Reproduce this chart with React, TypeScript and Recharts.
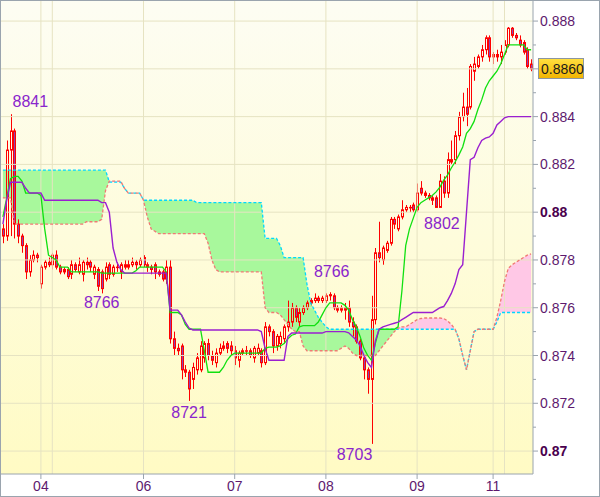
import {
  ComposedChart, Bar, Line, Area, XAxis, YAxis, ReferenceLine, ReferenceDot, CartesianGrid,
} from 'recharts'

// hourly candles, values in pips (price * 10000)
const opens = [
  8793, 8790, 8826, 8834, 8795, 8790, 8786, 8775, 8780, 8782,
  8770, 8777, 8779, 8778, 8782, 8777, 8775, 8776, 8774, 8778,
  8775, 8774, 8779, 8779, 8774, 8776, 8775, 8772, 8778, 8774,
  8777, 8775, 8778, 8777, 8778, 8779, 8778, 8781, 8778, 8777,
  8778, 8775, 8775, 8772, 8777, 8747, 8743, 8744, 8734, 8733,
  8730, 8734, 8734, 8739, 8745, 8740, 8737, 8741, 8743, 8745,
  8744, 8742, 8738, 8741, 8742, 8742, 8739, 8741, 8742, 8737,
  8752, 8750, 8744, 8745, 8747, 8752, 8754, 8760, 8754, 8758,
  8760, 8762, 8763, 8764, 8763, 8763, 8765, 8765, 8760, 8759,
  8760, 8760, 8754, 8752, 8746, 8739, 8734, 8730, 8755, 8783,
  8780, 8784, 8787, 8797, 8793, 8798, 8801, 8802, 8803, 8801,
  8810, 8808, 8807, 8806, 8806, 8802, 8813, 8808, 8821, 8822,
  8832, 8840, 8844, 8844, 8859, 8861, 8865, 8868, 8873, 8866,
  8865, 8865, 8867, 8870, 8877, 8874, 8872, 8871, 8868, 8862,
]
const highs = [
  8795, 8830, 8841, 8835, 8797, 8791, 8787, 8782, 8784, 8783,
  8778, 8780, 8781, 8783, 8784, 8778, 8777, 8777, 8780, 8779,
  8781, 8780, 8781, 8780, 8778, 8777, 8776, 8779, 8779, 8778,
  8779, 8779, 8780, 8780, 8781, 8780, 8781, 8782, 8779, 8778,
  8779, 8776, 8776, 8780, 8780, 8750, 8745, 8745, 8736, 8734,
  8737, 8741, 8746, 8746, 8747, 8742, 8743, 8745, 8746, 8746,
  8746, 8744, 8742, 8743, 8744, 8743, 8744, 8745, 8743, 8754,
  8753, 8751, 8749, 8750, 8753, 8763, 8762, 8761, 8760, 8761,
  8763, 8764, 8766, 8765, 8765, 8766, 8766.5, 8766, 8761, 8761,
  8762, 8763, 8756, 8753, 8747, 8740, 8735, 8765, 8785, 8796,
  8786, 8788, 8798, 8798, 8799, 8805, 8803, 8803, 8804, 8812,
  8813, 8809, 8808, 8807, 8807, 8816, 8815, 8825, 8830, 8834,
  8842, 8850, 8852, 8862, 8865, 8866, 8870, 8874, 8874, 8867,
  8868, 8870, 8872, 8877.5, 8877.5, 8875, 8874, 8872, 8869, 8864,
]
const lows = [
  8787, 8788, 8790, 8789, 8787, 8783, 8772, 8773, 8779, 8779,
  8768, 8776, 8777, 8776, 8776, 8774, 8774, 8772, 8772, 8775,
  8774, 8771, 8776, 8775, 8772, 8767, 8766, 8771, 8772, 8773,
  8775, 8772, 8776, 8776, 8777, 8776, 8777, 8777, 8775, 8774,
  8772, 8773, 8771, 8770, 8745, 8740, 8740, 8730, 8731, 8721,
  8726, 8732, 8733, 8737, 8738, 8736, 8735, 8740, 8742, 8741,
  8740, 8736, 8735, 8740, 8740, 8739, 8737, 8740, 8735, 8736,
  8748, 8741, 8742, 8743, 8745, 8750, 8752, 8754, 8752, 8757,
  8759, 8761, 8762, 8762, 8762, 8762, 8763, 8759, 8758, 8758,
  8755, 8752, 8748, 8745, 8738, 8730, 8724, 8703, 8753, 8779,
  8778, 8783, 8786, 8793, 8792, 8797, 8800, 8800, 8800, 8800,
  8807, 8806, 8805, 8803, 8802, 8802, 8806, 8806, 8820, 8820,
  8830, 8838, 8836, 8843, 8855, 8860, 8863, 8866, 8863, 8862,
  8863, 8862, 8866, 8869, 8873, 8872, 8869, 8866, 8860, 8859,
]
const closes = [
  8790, 8826, 8834, 8795, 8790, 8786, 8775, 8780, 8782, 8781,
  8777, 8779, 8778, 8782, 8777, 8775, 8776, 8773, 8778, 8776,
  8778, 8779, 8778, 8777, 8777, 8769, 8768, 8777, 8774, 8777,
  8777, 8778, 8777, 8778, 8779, 8778, 8780, 8778, 8777, 8776,
  8775, 8774, 8772, 8777, 8747, 8743, 8742, 8734, 8733, 8726,
  8735, 8739, 8744, 8745, 8740, 8738, 8741, 8743, 8744, 8743,
  8742, 8739, 8741, 8742, 8742, 8740, 8743, 8743, 8737, 8752,
  8750, 8744, 8748, 8748, 8752, 8754, 8760, 8756, 8758, 8760,
  8762, 8763, 8764, 8763, 8764, 8765, 8765.5, 8760, 8759, 8760,
  8759, 8754, 8752, 8746, 8739, 8734, 8730, 8755, 8783, 8781,
  8785, 8787, 8797, 8795, 8798, 8801, 8802, 8802, 8801, 8808,
  8808, 8807, 8806, 8805, 8802, 8813, 8808, 8822, 8822, 8832,
  8840, 8844, 8841, 8861, 8862, 8865, 8868, 8873, 8865, 8865,
  8866, 8867, 8870, 8877, 8874, 8873, 8870, 8867, 8861, 8860,
]

// ichimoku lines as drawn
const tenkan = [
  8798, 8806, 8814, 8815, 8815, 8813, 8808, 8808, 8808, 8808,
  8807, 8793, 8782, 8781, 8780, 8777, 8777, 8777, 8775, 8775,
  8775, 8775, 8775, 8775, 8775, 8775, 8774.5, 8774.5, 8774.5, 8774.5,
  8774.5, 8774.5, 8774.5, 8774.5, 8774.5, 8775.5, 8777, 8777, 8777, 8777,
  8777, 8777, 8777, 8775, 8758, 8758, 8758, 8757, 8753, 8751,
  8751, 8751, 8751, 8742, 8733, 8733, 8733, 8733, 8735, 8738,
  8740, 8741, 8741, 8741, 8741, 8741, 8741, 8741, 8741, 8743,
  8743.5, 8743.5, 8743.5, 8744, 8745, 8747, 8748.5, 8749, 8752, 8752.5,
  8752.5, 8752.5, 8752.5, 8754, 8757, 8760, 8762, 8762, 8762, 8762,
  8761, 8759, 8755, 8752, 8748, 8743, 8740, 8738, 8745, 8751,
  8751, 8751, 8751, 8751, 8752, 8767, 8786, 8793, 8797.5, 8802,
  8804, 8805, 8806, 8807, 8808.5, 8810.5, 8813.4, 8815.5, 8818.5, 8821,
  8824, 8827.3, 8833, 8835, 8838, 8843, 8847, 8852, 8855, 8857,
  8859, 8862, 8866, 8870, 8870, 8870, 8870, 8870, 8868, 8868,
]
const kijun = [
  8795, 8805, 8812.5, 8812.5, 8812.5, 8812.5, 8810, 8808, 8808, 8808,
  8808, 8805, 8805, 8805, 8805, 8805, 8805, 8805, 8805, 8805,
  8805, 8805, 8805, 8805, 8805, 8805, 8804, 8804, 8800, 8785,
  8779, 8776, 8774.5, 8774.5, 8774.5, 8774.5, 8774.5, 8774.5, 8774.5, 8774.5,
  8774.5, 8774.5, 8774.5, 8774.5, 8759, 8759, 8759, 8757, 8754, 8751.5,
  8750.7, 8750.7, 8750.7, 8750.7, 8750.7, 8750.7, 8750.7, 8750.7, 8750.7, 8750.7,
  8750.7, 8750.7, 8750.7, 8750.7, 8750.7, 8750.7, 8750.7, 8750.7, 8750, 8743,
  8738, 8738, 8738, 8738, 8738, 8748, 8749.4, 8749.4, 8749.4, 8749.4,
  8749.4, 8749.4, 8749.4, 8749.4, 8749.4, 8750, 8750, 8750, 8750, 8750,
  8750, 8749.5, 8748, 8746.5, 8744, 8740, 8737, 8735, 8746, 8751,
  8752, 8752.5, 8753, 8753.5, 8754, 8755, 8756, 8757, 8758, 8758,
  8758, 8758, 8758, 8758, 8759, 8760, 8760.5, 8763, 8766, 8770,
  8776, 8778, 8800, 8822, 8823, 8827, 8830, 8831, 8831.5, 8833,
  8836.5, 8838, 8839.5, 8840, 8840, 8840, 8840, 8840, 8840, 8840,
]
const spanA = [
  8817.6, 8817.6, 8817.6, 8817.6, 8817.6, 8817.6, 8817.6, 8817.6, 8817.6, 8817.6,
  8817.6, 8817.6, 8817.6, 8817.6, 8817.6, 8817.6, 8817.6, 8817.6, 8817.6, 8817.6,
  8817.6, 8817.6, 8817.6, 8817.6, 8817.6, 8817.6, 8817.6, 8817.6, 8812.6, 8812.6,
  8812.6, 8812.6, 8810, 8808, 8808, 8808, 8808, 8805, 8805, 8805,
  8805, 8805, 8805, 8805, 8805, 8805, 8805, 8805, 8805, 8805,
  8805, 8804, 8804, 8804, 8804, 8804, 8804, 8804, 8804, 8804,
  8804, 8804, 8804, 8804, 8804, 8804, 8804, 8804, 8804, 8789,
  8789, 8789, 8789, 8786, 8781, 8781, 8781, 8781, 8781, 8781,
  8770, 8762, 8759, 8756, 8754, 8752, 8751, 8751, 8751, 8751,
  8751, 8751, 8751, 8751, 8751, 8751, 8751, 8751, 8751, 8751,
  8751, 8751, 8751, 8751, 8751, 8751, 8751, 8751, 8751, 8751,
  8751, 8751, 8751, 8751, 8751, 8751, 8751, 8751, 8751, 8751,
  8747, 8740, 8734, 8742, 8750, 8751, 8751, 8751, 8751, 8751,
  8754, 8758, 8758, 8758, 8758, 8758, 8758, 8758, 8758, 8758,
]
const spanB = [
  8806, 8806, 8806, 8795, 8795, 8795, 8795, 8795, 8795, 8795,
  8795, 8795, 8795, 8795, 8795, 8795, 8795, 8795, 8795, 8795,
  8795, 8795, 8796, 8796, 8796, 8796, 8797, 8809, 8813, 8813,
  8813, 8813, 8810, 8808, 8808, 8808, 8808, 8805, 8798, 8793,
  8792, 8791, 8791, 8791, 8791, 8791, 8791, 8791, 8791, 8791,
  8791, 8791, 8791, 8791, 8787, 8780, 8776, 8775, 8775, 8775,
  8775, 8775, 8775, 8775, 8775, 8775, 8775, 8775, 8775, 8760,
  8758, 8758, 8758, 8757, 8755, 8753, 8751, 8750, 8750, 8744,
  8742, 8742, 8742, 8742, 8742, 8742, 8742, 8742, 8742, 8743,
  8744, 8743, 8741, 8740, 8740, 8740, 8740, 8740, 8740, 8742,
  8744, 8746, 8748, 8750, 8751.5, 8752, 8752, 8753, 8754, 8755,
  8755.5, 8755.7, 8755.7, 8755.7, 8755.7, 8755.7, 8755.5, 8754.5, 8753, 8751,
  8747, 8740, 8734, 8742, 8750, 8751, 8751, 8751, 8751, 8751,
  8756, 8763, 8771, 8776.5, 8778, 8779, 8780, 8781, 8782, 8782.5,
]

const dayTicks = [10, 37, 61, 85, 109, 129]
const dayLabels = ['04', '06', '07', '08', '09', '11']
const dayLines = [10, 13, 37, 61, 85, 109, 129, 132]
const priceTicks = [
  0.870, 0.871, 0.872, 0.873, 0.874, 0.875, 0.876, 0.877, 0.878, 0.879,
  0.880, 0.881, 0.882, 0.883, 0.884, 0.885, 0.886, 0.887, 0.888,
]
const gridPrices = [0.870, 0.872, 0.874, 0.876, 0.878, 0.880, 0.882, 0.884, 0.886, 0.888]

// marked extremes: candle index, price, label offset
const markIdx = [2, 26, 49, 86, 97, 115]
const markPrice = [0.8841, 0.8766, 0.8721, 0.8766, 0.8703, 0.8802]
const markOffset: [number, number, 'start' | 'middle'][] = [
  [2, -7, 'start'], [0, 15, 'middle'], [0, 17, 'middle'], [2, -16, 'middle'], [-17, 16, 'middle'], [2, 22, 'middle'],
]

const P = (v: number) => v / 10000
const rows = opens.map((o, i) => {
  const a = spanA[i], b = spanB[i], top = Math.max(a, b)
  return {
    i,
    range: [P(lows[i]), P(highs[i])],
    o: P(o), h: P(highs[i]), l: P(lows[i]), c: P(closes[i]),
    tenkan: P(tenkan[i]), kijun: P(kijun[i]),
    spanA: P(a), spanB: P(b),
    green: [P(b), P(top)],
    pink: [P(a), P(top)],
  }
})
const lastClose = P(closes[closes.length - 1])

const AXIS = '#9aa4ae'
const LABEL = '#5e1a6e'
const GRID = '#e6e3c2'

function Candle(props: any) {
  const { x, y, width, height, payload } = props
  if (!payload || x == null || y == null) return null
  const top = Math.min(y, y + height)
  const span = Math.abs(height)
  const { o, h, l, c } = payload
  const py = (v: number) => (h === l ? top : top + ((h - v) / (h - l)) * span)
  const cx = Math.round(x + width / 2) + 0.5
  const yo = py(o), yc = py(c)
  const bt = Math.min(yo, yc)
  const bb = Math.max(yo, yc, bt + 0.5)
  const up = c >= o
  return (
    <g>
      <line x1={cx} x2={cx} y1={top} y2={bt} stroke="#ff0000" />
      <line x1={cx} x2={cx} y1={bb} y2={top + span} stroke="#ff0000" />
      <rect x={cx - 1} y={bt} width={2} height={bb - bt} fill={up ? 'none' : '#9040b0'} stroke="#ff0000" />
    </g>
  )
}

function PriceTick({ x, y, payload }: any) {
  const v = payload.value as number
  const k = Math.round(v * 1000)
  const major = k % 2 === 0
  const bold = k % 10 === 0
  const ax = x - 7
  return (
    <g>
      <line x1={ax} x2={ax + (major ? 5 : 3)} y1={y} y2={y} stroke={AXIS} />
      {major && k !== 886 && (
        <text x={x} y={y} dy={5} fill={bold ? '#4a004e' : LABEL} fontSize={14} fontWeight={bold ? 700 : 400}>
          {bold ? v.toFixed(2) : v.toFixed(3)}
        </text>
      )}
    </g>
  )
}

function PriceBox({ viewBox }: any) {
  if (!viewBox) return null
  const bx = viewBox.x + viewBox.width + 5.5
  const by = Math.round(viewBox.y) - 10.5
  return (
    <g>
      <rect x={bx} y={by} width={45} height={20} fill="url(#gold)" stroke="#8c96a0" />
      <text x={bx + 2.5} y={by + 15} fontSize={14} fill="#1a1a1a">{lastClose.toFixed(4)}</text>
    </g>
  )
}

function markLabel(n: number) {
  return ({ viewBox }: any) => {
    if (!viewBox) return null
    const cx = viewBox.x + viewBox.width / 2
    const cy = viewBox.y + viewBox.height / 2
    const [dx, dy, anchor] = markOffset[n]
    return (
      <text x={cx + dx} y={cy + dy} textAnchor={anchor} fontSize={16} fill="#8a26cc">
        {Math.round(markPrice[n] * 10000)}
      </text>
    )
  }
}

export default function App() {
  return (
    <div style={{
      position: 'absolute', left: 0, top: 0, width: 600, height: 497, background: '#fff',
      fontFamily: '"Liberation Sans", Arial, sans-serif',
    }}>
      <ComposedChart width={600} height={497} data={rows} margin={{ top: 1, right: 1, bottom: 1, left: 1 }}
        barCategoryGap={0}>
        <defs>
          <linearGradient id="bg" x1="0" y1="0" x2="0" y2="1">
            <stop offset="0%" stopColor="#fdfdf3" />
            <stop offset="100%" stopColor="#fffbc4" />
          </linearGradient>
          <linearGradient id="gold" x1="0" y1="0" x2="0" y2="1">
            <stop offset="0%" stopColor="#ffe040" />
            <stop offset="100%" stopColor="#f2b400" />
          </linearGradient>
        </defs>
        <CartesianGrid horizontal={false} vertical={false} fill="url(#bg)" />
        {gridPrices.map(v => (
          <ReferenceLine key={'h' + v} y={v} stroke={GRID} />
        ))}
        {dayLines.map(v => (
          <ReferenceLine key={'v' + v} x={v} stroke={GRID} />
        ))}
        <XAxis dataKey="i" type="category" ticks={dayTicks} interval={0} height={22}
          tickFormatter={(v: number) => dayLabels[dayTicks.indexOf(v)] ?? ''}
          stroke={AXIS} tickSize={5} tickMargin={2}
          tick={{ fill: LABEL, fontSize: 14 }} />
        <YAxis orientation="right" type="number" width={66} domain={[0.86904, 0.88884]} allowDataOverflow
          ticks={priceTicks} interval={0} stroke={AXIS} tickLine={false} tickSize={5} tickMargin={2}
          tick={<PriceTick />} />
        <Area dataKey="green" type="linear" stroke="none" fill="#a8f89c" fillOpacity={1} isAnimationActive={false} />
        <Area dataKey="pink" type="linear" stroke="none" fill="#ffc8e6" fillOpacity={1} isAnimationActive={false} />
        <Line dataKey="spanA" type="linear" stroke="#00d8ff" strokeWidth={1.3} strokeDasharray="3 2" dot={false} isAnimationActive={false} />
        <Line dataKey="spanB" type="linear" stroke="#f07a74" strokeWidth={1.3} strokeDasharray="3 2" dot={false} isAnimationActive={false} />
        <Bar dataKey="range" shape={(p: any) => <Candle {...p} />} isAnimationActive={false} />
        <Line dataKey="tenkan" type="linear" stroke="#10e010" strokeWidth={1.3} dot={false} isAnimationActive={false} />
        <Line dataKey="kijun" type="linear" stroke="#9a1fd0" strokeWidth={1.4} dot={false} isAnimationActive={false} />
        {markIdx.map((mi, n) => (
          <ReferenceDot key={'m' + n} x={mi} y={markPrice[n]} r={1} fill="none" stroke="none" label={markLabel(n)} />
        ))}
        <ReferenceLine y={lastClose} stroke="none" label={<PriceBox />} />
      </ComposedChart>
      <div style={{ position: 'absolute', inset: 0, border: `1px solid ${AXIS}`, pointerEvents: 'none' }} />
    </div>
  )
}
